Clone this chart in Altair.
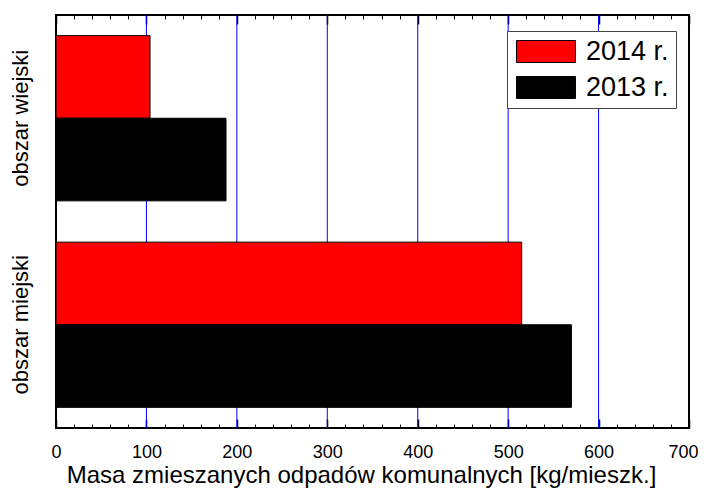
import altair as alt
import pandas as pd

categories = ["obszar wiejski", "obszar miejski"]
years = ["2014 r.", "2013 r."]
values_2014 = [104, 515]
values_2013 = [188, 570]
colors = ["#ff0000", "#000000"]
major_ticks = [0, 100, 200, 300, 400, 500, 600, 700]
grid_ticks = [100, 200, 300, 400, 500, 600]
minor_ticks = list(range(0, 701, 20))
x_title = "Masa zmieszanych odpadów komunalnych [kg/mieszk.]"

rows = []
for cat, v14, v13 in zip(categories, values_2014, values_2013):
    rows.append({"obszar": cat, "rok": years[0], "masa": v14})
    rows.append({"obszar": cat, "rok": years[1], "masa": v13})
df = pd.DataFrame(rows)
grid_df = pd.DataFrame({"v": grid_ticks})

FONT = "Liberation Sans"
xscale = alt.Scale(domain=[0, 700], nice=False, zero=True)


def hidden_axis(orient, values, size, width):
    return alt.Axis(orient=orient, values=values, offset=-size, tickSize=size,
                    tickWidth=width, tickColor="black", labels=False,
                    domain=False, grid=False, title=None)


grid_layer = alt.Chart(grid_df).mark_rule(color="#0000ff", strokeWidth=1).encode(
    x=alt.X("v:Q", scale=xscale, axis=None)
)

bars = alt.Chart(df).mark_bar(stroke="#000000", strokeWidth=1, opacity=1).encode(
    x=alt.X("masa:Q", scale=xscale,
            axis=alt.Axis(orient="bottom", values=major_ticks, offset=-9,
                          tickSize=9, tickWidth=1.5, tickColor="black",
                          domain=False, grid=False, labelFlush=False,
                          labelOverlap=False, labelFont=FONT, labelFontSize=18,
                          labelColor="black", labelPadding=15,
                          labelOffset={"condition": {"test": "datum.value === 700",
                                                     "value": -6},
                                       "value": 0},
                          title=x_title, titleFont=FONT, titleFontSize=24,
                          titleFontWeight="normal", titleColor="black",
                          titlePadding=2, titleX=305)),
    y=alt.Y("obszar:N", sort=categories,
            scale=alt.Scale(paddingInner=0.2, paddingOuter=0.1),
            axis=alt.Axis(title=None, labelAngle=-90, labelAlign="center",
                          labelBaseline="alphabetic", labelFont=FONT,
                          labelFontSize=22, labelColor="black",
                          labelPadding=29, ticks=False, domain=False)),
    yOffset=alt.YOffset("rok:N", sort=years,
                        scale=alt.Scale(paddingInner=0, paddingOuter=0)),
    color=alt.Color("rok:N", sort=years,
                    scale=alt.Scale(domain=years, range=colors),
                    legend=alt.Legend(orient="none", legendX=451, legendY=16,
                                      title=None, strokeColor="#444444",
                                      fillColor="white", padding=7,
                                      symbolType="M-2.68,-1H2.68V1H-2.68Z",
                                      symbolSize=484, symbolOffset=18.5,
                                      symbolStrokeColor="black",
                                      symbolStrokeWidth=1, symbolOpacity=1,
                                      labelFont=FONT, labelFontSize=27,
                                      labelColor="black", labelOffset=26.5,
                                      rowPadding=8, labelLimit=0)),
)

minor_bottom = alt.Chart(df).mark_point(opacity=0).encode(
    x=alt.X("masa:Q", scale=xscale, axis=hidden_axis("bottom", minor_ticks, 4, 1))
)
major_top = alt.Chart(df).mark_point(opacity=0).encode(
    x=alt.X("masa:Q", scale=xscale, axis=hidden_axis("top", major_ticks, 9, 1.5))
)
minor_top = alt.Chart(df).mark_point(opacity=0).encode(
    x=alt.X("masa:Q", scale=xscale, axis=hidden_axis("top", minor_ticks, 4, 1))
)

chart = alt.layer(grid_layer, bars, minor_bottom, major_top, minor_top).resolve_axis(
    x="independent"
).properties(
    width=633, height=413,
    autosize=alt.AutoSizeParams(type="none"),
    padding={"left": 48, "top": 7, "right": 10, "bottom": 64},
).configure_view(stroke="black", strokeWidth=2)

chart.save("out.html", embed_options={"renderer": "svg", "actions": False})
